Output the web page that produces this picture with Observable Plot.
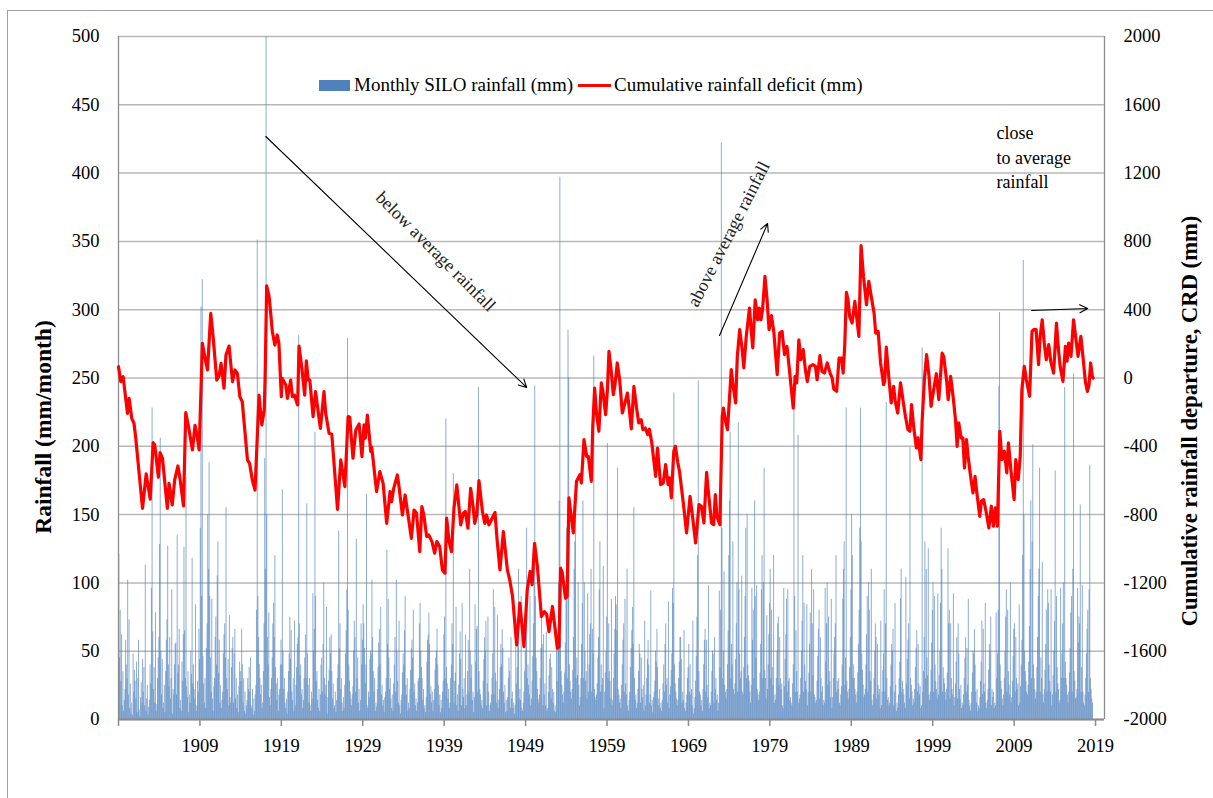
<!DOCTYPE html>
<html><head><meta charset="utf-8">
<script src="https://cdn.jsdelivr.net/npm/d3@7"></script>
<script src="https://cdn.jsdelivr.net/npm/@observablehq/plot@0.6"></script>
<style>
html,body{margin:0;padding:0;background:#fff;overflow:hidden;}
#frame{position:absolute;left:7px;top:10px;width:1210px;height:790px;border-left:1.5px solid #a0a0a0;border-top:1.5px solid #a0a0a0;}
#chart{position:absolute;left:0;top:0;}
#chart svg text{font-family:'Liberation Serif','Times New Roman',serif !important;}
.ttl{position:absolute;font-family:'Liberation Serif','Times New Roman',serif;font-weight:bold;white-space:nowrap;transform:translate(-50%,-50%) rotate(-90deg);color:#000;}
#legend{position:absolute;left:319px;top:75px;height:20px;display:flex;align-items:center;font-family:'Liberation Serif','Times New Roman',serif;font-size:19px;color:#000;white-space:nowrap;}
.sw{display:inline-block;}
</style></head><body>
<div id="frame"></div>
<div id="chart"></div>
<div class="ttl" style="left:43px;top:427px;font-size:23.5px;">Rainfall (mm/month)</div>
<div class="ttl" style="left:1190px;top:421px;font-size:22.6px;">Cumulative rainfall departure, CRD (mm)</div>
<div id="legend">
  <span class="sw" style="width:31px;height:11px;background:#4F81BD;"></span><span style="margin-left:4px;">Monthly SILO rainfall (mm)</span>
  <span class="sw" style="width:33px;height:3px;background:#FF0000;margin-left:5px;"></span><span style="margin-left:3px;">Cumulative rainfall deficit (mm)</span>
</div>
<script>
const leftTicks = [0,50,100,150,200,250,300,350,400,450,500];
const rightTicks = [-2000,-1600,-1200,-800,-400,0,400,800,1200,1600,2000];
const xTicks = [1899,1909,1919,1929,1939,1949,1959,1969,1979,1989,1999,2009,2019];
const startYear = 1899;

// monthly rainfall (mm), Jan..Dec per year
const r1899 = [
121,45,80,28,62,10,35,6,14,22,58,40,
30,102,18,73,8,26,4,12,3,48,20,36,
28,15,42,5,30,58,7,2,16,27,12,44,
20,38,10,113,6,15,25,3,9,14,40,26,
96,228,64,22,38,12,78,6,11,30,45,60,
128,206,50,18,44,8,12,25,5,35,58,73,
127,40,24,60,15,30,95,4,22,18,40,55,
56,18,135,34,40,66,8,14,6,42,28,62,
126,65,30,177,24,16,35,5,18,12,50,33,
118,26,40,22,15,84,6,10,28,20,66,44];
const r1909 = [
140,302,90,322,46,26,12,30,8,52,70,150,
110,188,90,45,20,88,15,6,24,30,60,75,
40,105,130,34,58,12,25,8,14,20,48,62,
70,45,155,30,22,44,10,76,16,12,38,52,
60,12,48,66,15,30,8,18,5,24,42,35,
28,66,40,12,30,6,20,4,10,14,30,22,
38,20,45,10,8,22,3,15,6,18,25,80,
351,90,60,40,30,18,25,8,12,35,70,191,
110,500,150,60,40,78,16,10,22,30,45,70,
85,60,120,38,26,14,30,6,18,22,40,58];
const r1919 = [
40,168,50,22,30,12,8,15,4,20,35,48,
75,44,65,20,14,30,6,72,10,25,38,55,
60,281,70,32,40,18,22,8,14,30,45,62,
30,158,48,25,12,30,10,6,20,15,92,50,
66,210,90,28,35,14,8,22,6,18,40,45,
20,55,100,30,18,25,82,4,16,28,36,60,
48,62,35,15,26,8,10,20,5,14,30,40,
138,52,70,22,30,12,6,16,8,25,48,65,
95,279,80,40,28,20,15,10,18,24,50,72,
60,20,132,30,45,12,22,6,14,70,40,58];
const r1929 = [
84,70,52,26,40,165,10,8,20,16,44,50,
48,102,60,35,20,30,6,12,9,22,38,56,
66,40,82,18,25,10,14,5,16,20,30,124,
55,88,45,22,30,15,8,18,6,26,40,60,
20,102,50,28,12,72,10,4,14,18,34,48,
40,65,90,25,18,30,6,12,8,22,36,52,
58,45,80,20,26,10,15,6,12,28,30,70,
85,50,38,30,14,22,8,10,5,16,42,58,
62,78,55,18,24,12,20,6,14,22,36,45,
50,66,40,25,10,18,5,14,8,20,28,62];
const r1939 = [
75,30,220,38,26,15,22,8,12,30,40,70,
55,180,12,28,34,82,10,18,6,25,48,64,
44,10,85,22,16,30,8,62,10,18,35,58,
20,110,50,30,40,14,20,5,16,84,42,66,
68,20,243,35,22,18,10,14,8,28,44,60,
50,72,10,26,75,20,6,10,12,18,30,48,
95,18,82,34,28,12,76,8,14,22,38,55,
40,66,52,20,12,25,5,14,6,16,30,45,
35,8,60,15,20,8,12,4,10,74,26,38,
72,110,15,22,14,90,8,6,12,20,35,50];
const r1949 = [
88,140,30,40,25,18,90,10,15,28,46,70,
120,244,90,45,35,22,15,12,18,30,52,80,
55,10,62,18,26,10,64,6,8,20,32,44,
48,15,38,22,12,20,6,10,5,66,28,60,
100,160,397,60,35,25,18,12,20,34,56,90,
140,30,285,250,40,28,20,15,22,36,60,110,
130,150,30,45,32,100,25,10,16,30,55,85,
160,30,100,50,28,35,15,92,20,40,62,70,
110,20,66,48,266,22,16,14,18,26,45,60,
95,130,20,40,25,30,112,8,20,34,50,75];
const r1959 = [
202,30,70,35,28,15,88,10,14,30,48,66,
90,84,65,184,22,18,12,15,8,25,40,58,
70,20,88,26,18,110,10,6,14,20,38,52,
65,82,55,155,30,14,18,8,12,22,35,55,
48,12,45,22,16,25,6,72,10,18,30,44,
58,40,12,18,94,10,14,5,16,20,28,50,
42,66,38,15,10,22,8,12,6,14,26,40,
20,55,70,25,30,12,86,8,18,24,36,48,
96,85,239,40,26,20,15,10,14,30,42,60,
60,44,12,20,14,65,8,6,12,18,30,38];
const r1969 = [
55,20,40,18,22,10,72,4,8,16,28,46,
75,120,248,35,20,18,10,14,6,22,40,58,
66,20,58,25,16,98,8,12,10,20,35,50,
48,12,60,22,30,14,18,6,12,94,38,80,
422,140,30,50,108,25,20,15,22,40,65,120,
160,210,30,55,40,130,22,18,26,44,70,100,
20,217,95,48,30,35,105,20,18,38,60,90,
140,30,150,40,32,28,20,12,25,96,58,80,
30,160,90,45,98,22,18,14,20,34,55,95,
120,30,100,184,36,30,15,76,22,40,62,85];
const r1979 = [
110,30,80,38,25,120,12,18,14,30,50,70,
75,25,60,30,22,26,10,8,96,24,44,62,
88,20,95,28,30,14,16,12,10,26,40,228,
90,20,65,35,20,208,12,15,18,30,50,72,
120,20,85,40,28,22,84,10,20,34,55,78,
20,110,70,32,95,18,16,12,14,28,46,66,
80,15,60,30,20,24,10,14,12,96,42,70,
100,25,75,35,28,16,88,8,16,30,48,60,
70,120,20,28,22,30,12,10,18,24,40,88,
110,130,25,45,228,28,20,15,22,38,60,95];
const r1989 = [
150,120,30,40,30,22,18,12,20,34,55,80,
140,228,130,48,36,25,16,18,22,40,62,90,
20,100,80,35,28,110,14,10,18,30,50,70,
60,15,55,25,18,22,8,72,10,20,36,48,
95,20,70,232,30,14,16,10,12,24,40,55,
50,66,10,20,85,25,6,12,8,18,30,42,
88,110,20,28,22,18,12,8,104,26,44,58,
70,15,199,30,25,20,10,15,12,22,38,52,
65,20,55,26,18,24,8,10,272,20,35,60,
130,30,110,45,32,125,18,14,20,36,56,80];
const r1999 = [
100,20,90,40,28,22,15,92,18,32,50,85,
140,110,20,38,30,26,20,14,22,34,125,70,
80,15,70,30,22,18,92,10,16,26,42,60,
15,70,48,22,15,25,8,12,10,18,30,45,
60,20,52,25,88,14,10,6,12,20,34,50,
48,66,40,20,12,22,6,10,8,16,28,42,
72,18,66,26,20,85,12,8,14,22,36,55,
50,75,10,22,16,20,8,12,10,78,30,48,
80,244,298,40,28,22,15,10,18,30,50,75,
95,20,80,35,25,18,100,12,16,28,46,66];
const r2009 = [
70,20,60,30,22,26,10,84,12,24,40,58,
120,336,150,50,35,28,20,18,25,42,68,110,
160,30,130,201,40,30,22,15,20,38,60,90,
110,184,20,45,30,115,18,12,22,36,55,80,
20,95,85,40,28,20,95,10,18,32,50,72,
182,20,90,38,26,22,12,14,96,30,48,70,
100,30,243,42,30,25,18,12,20,34,52,78,
90,20,110,253,35,28,15,16,22,96,56,75,
70,157,20,38,98,20,12,10,18,30,48,66,
80,20,95,186,30,22,15,12];

// cumulative rainfall departure (mm)
const crdT = [1899.0,1899.28,1899.57,1900.1,1900.3,1900.63,1900.9,1901.1,1901.95,1902.4,1902.9,1903.25,1903.45,1903.9,1904.1,1904.4,1905.0,1905.2,1905.6,1905.9,1906.3,1906.55,1906.98,1907.26,1907.6,1908.08,1908.4,1908.6,1908.9,1909.14,1909.3,1909.6,1909.93,1910.33,1910.6,1911.07,1911.35,1911.6,1911.96,1912.2,1912.58,1913.0,1913.3,1913.6,1913.9,1914.2,1914.84,1915.1,1915.45,1915.77,1916.26,1916.6,1916.9,1917.0,1917.2,1917.5,1917.9,1918.2,1918.5,1918.7,1919.0,1919.1,1919.55,1919.75,1920.15,1920.35,1920.6,1921.0,1921.17,1921.5,1921.87,1922.07,1922.3,1922.5,1922.9,1923.2,1923.63,1923.8,1924.24,1924.45,1924.86,1925.2,1925.9,1926.3,1926.8,1927.2,1927.4,1927.8,1928.15,1928.55,1928.9,
1929.15,1929.3,1929.57,1929.98,1930.1,1930.7,1931.1,1931.5,1931.94,1932.35,1932.55,1932.8,1933.25,1933.45,1933.87,1934.2,1934.5,1934.97,1935.3,1935.6,1936.0,1936.26,1936.5,1936.85,1937.1,1937.5,1937.83,1938.1,1938.45,1938.78,1939.1,1939.3,1939.6,1939.9,1940.2,1940.55,1941.03,1941.35,1941.6,1941.92,1942.25,1942.55,1942.75,1943.0,1943.27,1943.7,1943.98,1944.2,1944.5,1944.8,1945.24,1945.5,1945.85,1946.27,1946.76,1947.05,1947.4,1947.9,1948.3,1948.8,1949.2,1949.55,1949.8,1950.1,1950.45,1950.94,1951.3,1951.6,1951.87,1952.3,1952.9,1953.1,1953.3,1953.5,1953.9,1954.1,
1954.32,1954.86,1955.25,1955.67,1955.85,1956.17,1956.5,1956.7,1957.07,1957.25,1957.48,1957.7,1958.0,1958.3,1958.5,1958.83,1959.05,1959.24,1959.5,1959.77,1959.98,1960.26,1960.55,1960.88,1961.2,1961.5,1961.7,1961.98,1962.3,1962.63,1962.9,1963.2,1963.4,1963.7,1964.0,1964.2,1964.5,1964.97,1965.2,1965.58,1965.9,1966.2,1966.5,1966.7,1966.9,1967.2,1967.4,1967.7,1967.9,1968.37,1968.77,1969.2,1969.5,1969.88,1970.3,1970.6,1970.9,1971.23,1971.5,1971.84,1972.1,1972.3,1972.5,1972.86,1973.15,1973.3,1973.6,1973.8,1974.26,1974.5,1974.8,1975.0,1975.3,1975.6,1975.8,1976.1,1976.5,1976.7,1976.9,1977.2,1977.5,1977.7,1977.9,1978.1,1978.4,1978.66,1978.9,1979.2,1979.5,1979.9,1980.2,1980.5,1980.8,1981.1,1981.4,1981.87,1982.1,1982.3,1982.56,1982.8,1983.1,1983.36,1983.6,1983.9,
1984.3,1984.6,1984.8,1985.15,1985.4,1985.7,1986.05,1986.4,1986.65,1986.85,1987.2,1987.5,1987.8,1988.0,1988.2,1988.4,1988.6,1988.8,1989.1,1989.44,1989.7,1989.93,1990.2,1990.5,1990.87,1991.15,1991.45,1991.8,1992.0,1992.3,1992.6,1992.97,1993.1,1993.3,1993.6,1993.9,1994.2,1994.4,1994.7,1995.05,1995.4,1995.65,1995.95,1996.2,1996.4,1996.7,1997.0,1997.2,1997.55,1997.7,1997.98,1998.25,1998.55,1998.8,1999.15,1999.45,1999.75,1999.95,2000.16,2000.35,2000.7,2000.9,2001.2,2001.5,2001.8,2002.0,2002.2,2002.5,2002.7,2002.9,2003.15,2003.35,2003.6,2003.95,2004.2,2004.4,2004.78,2004.98,2005.25,2005.55,2005.9,2006.2,2006.45,2006.7,2006.95,2007.24,2007.5,2007.8,2008.1,2008.3,2008.6,2009.0,2009.2,2009.5,2009.75,2009.95,2010.25,2010.5,2010.9,2011.2,2011.4,2011.7,2012.0,2012.2,2012.45,2012.7,2012.95,2013.25,2013.5,2013.85,2014.2,2014.45,2014.65,2015.0,2015.3,2015.5,2015.7,2015.98,2016.3,2016.6,2016.85,2017.2,2017.45,2017.75,2018.0,2018.2,2018.4,2018.6,2018.7];
const crdV = [66,-21,8,-207,-119,-236,-265,-343,-763,-562,-710,-379,-392,-581,-437,-470,-763,-617,-743,-597,-515,-587,-749,-203,-285,-421,-277,-324,-421,-60,203,125,47,379,252,-12,12,86,-60,135,187,-21,47,27,-109,-139,-480,-500,-601,-656,-100,-275,-187,-12,539,476,271,193,252,203,-109,-2,-41,-119,-12,-109,-100,-158,187,66,-100,101,-12,-12,-226,-80,-236,-295,-80,-207,-324,-330,-769,-480,-636,-226,-230,-470,-304,-269,-460,
-275,-353,-217,-431,-405,-665,-548,-617,-851,-665,-724,-646,-568,-636,-802,-685,-782,-939,-773,-792,-1017,-753,-802,-929,-919,-958,-1026,-958,-987,-1124,-1143,-821,-958,-1017,-763,-626,-860,-792,-782,-880,-646,-753,-851,-802,-601,-782,-851,-802,-860,-830,-788,-948,-1124,-900,-1124,-1182,-1280,-1563,-1319,-1573,-1241,-1133,-1211,-968,-1104,-1397,-1368,-1387,-1485,-1338,-1582,-1575,-1114,-1140,-1290,-1280,
-702,-907,-605,-566,-615,-361,-459,-459,-605,-283,-59,-205,-312,-29,-78,-215,-68,156,49,-98,-39,88,-10,-205,-146,-88,-166,-298,-49,-176,-263,-244,-302,-293,-332,-300,-380,-576,-410,-624,-615,-507,-624,-585,-702,-429,-400,-498,-546,-732,-907,-693,-810,-966,-741,-751,-849,-552,-693,-849,-859,-683,-810,-859,-224,-176,-263,-302,49,-49,-146,127,283,166,59,244,410,283,176,458,341,410,341,400,595,458,283,365,263,20,263,273,137,185,49,-176,10,-29,224,107,166,49,-20,68,
78,68,-10,131,39,29,88,29,0,-64,-78,117,117,29,195,501,458,361,322,449,341,244,775,595,429,566,478,380,263,273,88,-39,-20,181,10,-146,-49,-137,-205,-29,-146,-224,-302,-312,-156,-302,-410,-351,-478,-254,-10,137,10,-166,-59,25,-127,10,146,127,-10,-127,10,-107,-244,-400,-263,-351,-351,-527,-361,-459,-556,-673,-576,-663,-810,-722,-712,-780,-878,-751,-868,-761,-868,-312,-478,-429,-556,-380,-537,-712,-478,-595,-459,-68,68,-10,-107,273,283,283,78,244,341,205,107,195,98,29,322,166,68,-20,185,98,205,127,341,224,127,244,127,-20,-78,-40,88,10,0];

// annotations (x in years, y on the rainfall axis)
const arrowX1 = [1917.09, 1972.82, 2011.15];
const arrowY1 = [426.8, 281.1, 299.4];
const arrowX2 = [1949.13, 1978.72, 2018.03];
const arrowY2 = [243.1, 363.1, 300.9];
const slantText = ["below average rainfall", "above average rainfall"];
const slantX = [1937.96, 1973.95];
const slantY = [342.6, 355.4];
const slantRotate = [45, -63];
const noteLines = ["close", "to average", "rainfall"];
const noteX = [2006.83, 2006.83, 2006.83];
const noteY = [429.0, 410.7, 393.1];

const serif = "'Liberation Serif','Times New Roman',serif";
const rain = [r1899, r1909, r1919, r1929, r1939, r1949, r1959, r1969, r1979, r1989, r1999, r2009]
  .flat().map((v, i) => ({t: startYear + i / 12 + 1 / 24, v}));
const crd = crdT.map((t, i) => ({t, v: crdV[i]}));
const toLeft = c => (c + 2000) / 8;
const arrows = arrowX1.map((x, i) => ({x1: x, y1: arrowY1[i], x2: arrowX2[i], y2: arrowY2[i]}));
const slants = slantText.map((s, i) => ({s, x: slantX[i], y: slantY[i], r: slantRotate[i]}));
const notes = noteLines.map((s, i) => ({s, x: noteX[i], y: noteY[i]}));
const xEnd = 2020.1;

const chart = Plot.plot({
  width: 1213, height: 798,
  marginLeft: 118, marginRight: 109, marginTop: 36, marginBottom: 79,
  style: {fontFamily: serif, fontSize: "18.5px", color: "#000", background: "transparent"},
  x: {domain: [startYear, xEnd]},
  y: {domain: [0, 500]},
  marks: [
    Plot.ruleY(leftTicks, {stroke: "#b8b8b8", strokeWidth: 1.5}),
    Plot.ruleX(rain, {x: "t", y1: 0, y2: "v", stroke: "#4F81BD", strokeWidth: 0.65}),
    Plot.ruleX([startYear, xEnd], {y1: 0, y2: 500, stroke: "#8c8c8c", strokeWidth: 1.3}),
    Plot.ruleY([0], {stroke: "#8c8c8c", strokeWidth: 1.8}),
    Plot.line(crd, {x: "t", y: d => toLeft(d.v), stroke: "#FF0000", strokeWidth: 3.2, strokeLinejoin: "round"}),
    Plot.arrow(arrows, {x1: "x1", y1: "y1", x2: "x2", y2: "y2", stroke: "#000", strokeWidth: 1.1, headLength: 12, headAngle: 55}),
    Plot.text(slants, {x: "x", y: "y", text: "s", rotate: "r", fontSize: 18, fontFamily: serif, fill: "#222", textAnchor: "middle"}),
    Plot.text(notes, {x: "x", y: "y", text: "s", fontSize: 18, fontFamily: serif, fill: "#000", textAnchor: "start"}),
    Plot.axisY(leftTicks, {anchor: "left", tickSize: 0, tickPadding: 19, label: null, fontSize: 18.5, fontFamily: serif}),
    Plot.axisY(rightTicks.map(toLeft), {anchor: "right", tickSize: 0, tickPadding: 19, label: null, fontSize: 18.5, fontFamily: serif, tickFormat: v => String(Math.round(v * 8 - 2000))}),
    Plot.axisX(xTicks, {anchor: "bottom", tickSize: 7, tickPadding: 12, label: null, fontSize: 18.5, fontFamily: serif, stroke: "#8c8c8c", strokeWidth: 1.5, tickFormat: d => d === startYear ? "" : String(d)})
  ]
});
document.getElementById("chart").appendChild(chart);
</script>
</body></html>
